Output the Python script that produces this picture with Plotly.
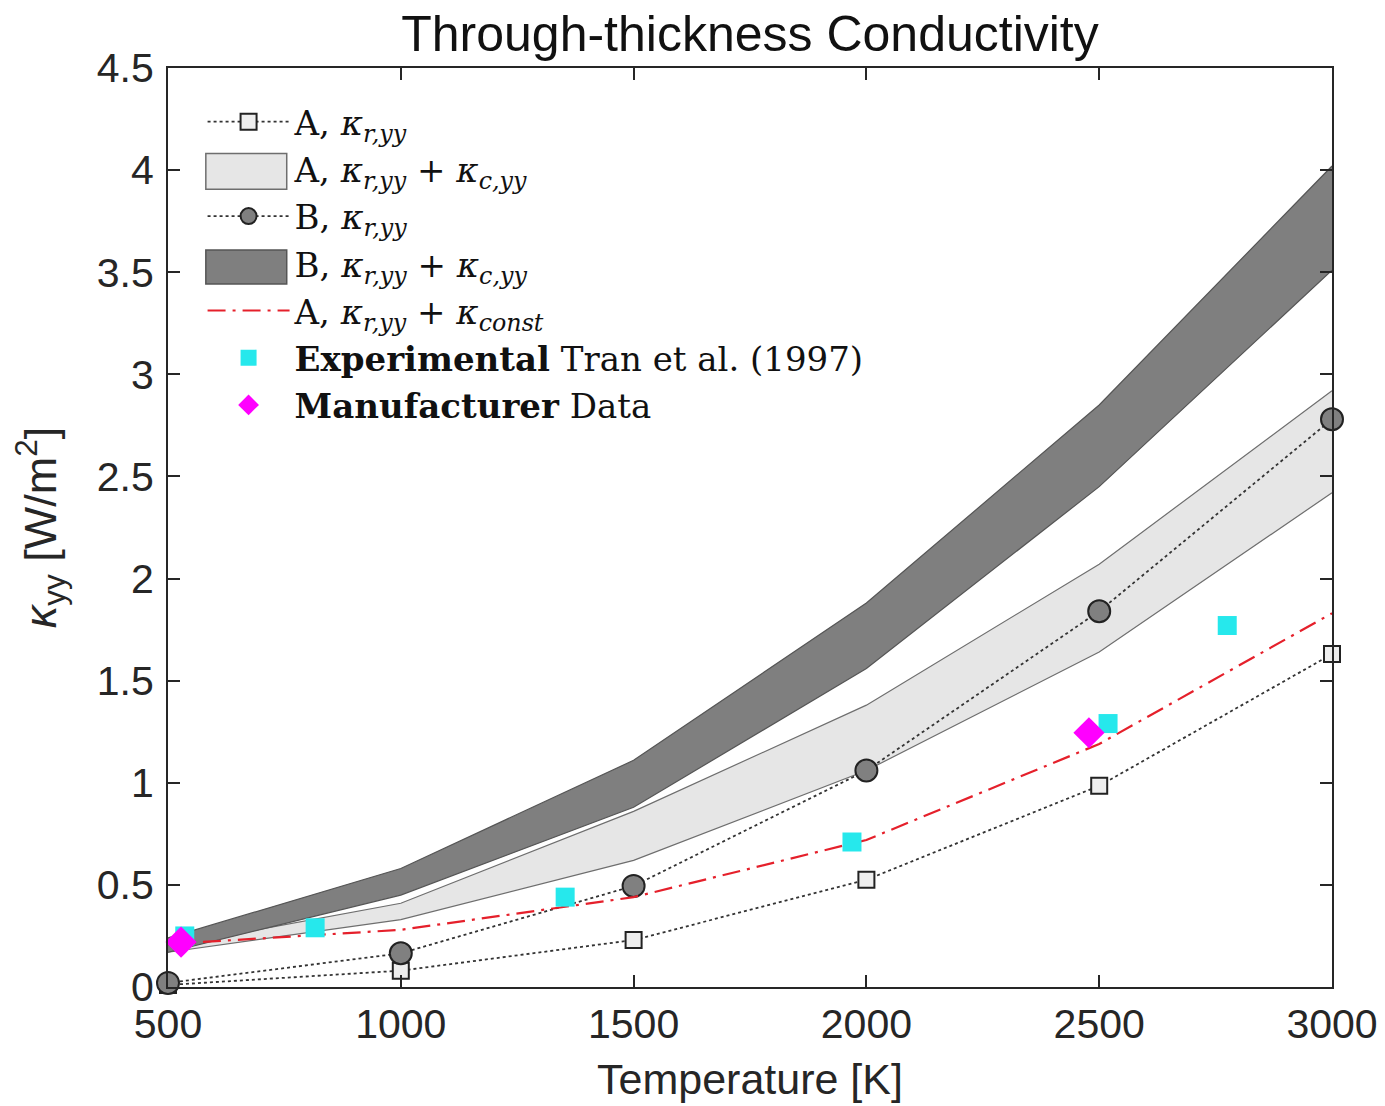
import plotly.graph_objects as go

temps = [500, 1000, 1500, 2000, 2500, 3000]
a_rad = [0.01, 0.08, 0.23, 0.525, 0.985, 1.63]
b_rad = [0.02, 0.165, 0.495, 1.06, 1.84, 2.78]
a_band_low = [0.17, 0.33, 0.62, 1.06, 1.64, 2.42]
a_band_high = [0.20, 0.41, 0.86, 1.38, 2.07, 2.92]
b_band_low = [0.17, 0.45, 0.88, 1.56, 2.45, 3.51]
b_band_high = [0.24, 0.58, 1.11, 1.88, 2.85, 4.02]
a_const = [0.21, 0.28, 0.44, 0.72, 1.19, 1.83]

exp_T = [536, 816, 1353, 1969, 2519, 2775]
exp_k = [0.25, 0.29, 0.44, 0.71, 1.29, 1.77]
man_T = [528, 2478]
man_k = [0.22, 1.245]

LIGHT_FILL, LIGHT_EDGE = "#e6e6e6", "#6e6e6e"
DARK_FILL, DARK_EDGE = "#7f7f7f", "#555555"


def kap(sub):
    return f"<i>κ</i><sub><i>{sub}</i></sub>"


fig = go.Figure()

# shaded bands: lower edge first, upper edge fills down to it
fig.add_trace(go.Scatter(x=temps, y=a_band_low, mode="lines", showlegend=False,
                         line=dict(color=LIGHT_EDGE, width=1.2), hoverinfo="skip"))
fig.add_trace(go.Scatter(x=temps, y=a_band_high, mode="lines", fill="tonexty",
                         fillcolor=LIGHT_FILL, line=dict(color=LIGHT_EDGE, width=1.2),
                         showlegend=False))
fig.add_trace(go.Scatter(x=temps, y=b_band_low, mode="lines", showlegend=False,
                         line=dict(color=DARK_EDGE, width=1.2), hoverinfo="skip"))
fig.add_trace(go.Scatter(x=temps, y=b_band_high, mode="lines", fill="tonexty",
                         fillcolor=DARK_FILL, line=dict(color=DARK_EDGE, width=1.2),
                         showlegend=False))

fig.add_trace(go.Scatter(x=temps, y=a_rad, mode="lines+markers", cliponaxis=False,
                         line=dict(color="#333333", width=1.8, dash="dot"),
                         marker=dict(symbol="square", size=16, color="#eeeeee",
                                     line=dict(color="#222222", width=2)),
                         name=f"A, {kap('r,yy')}", legendrank=1))
fig.add_trace(go.Scatter(x=temps, y=b_rad, mode="lines+markers", cliponaxis=False,
                         line=dict(color="#333333", width=1.8, dash="dot"),
                         marker=dict(symbol="circle", size=22, color="#808080",
                                     line=dict(color="#222222", width=2)),
                         name=f"B, {kap('r,yy')}", legendrank=3))
fig.add_trace(go.Scatter(x=temps, y=a_const, mode="lines",
                         line=dict(color="#e5202b", width=2.2, dash="18px,7px,3px,7px"),
                         name=f"A, {kap('r,yy')} + {kap('const')}", legendrank=5))
fig.add_trace(go.Scatter(x=exp_T, y=exp_k, mode="markers", cliponaxis=False,
                         marker=dict(symbol="square", size=19, color="#26e8ec"),
                         name="<b>Experimental</b> Tran et al. (1997)", legendrank=6))
fig.add_trace(go.Scatter(x=man_T, y=man_k, mode="markers", cliponaxis=False,
                         marker=dict(symbol="diamond", size=24, color="#ff00ff"),
                         name="<b>Manufacturer</b> Data", legendrank=7))

# legend entries for the bands (swatch boxes drawn as shapes below)
fig.add_trace(go.Scatter(x=[None], y=[None], mode="lines", line=dict(width=0, color="white"),
                         name=f"A, {kap('r,yy')} + {kap('c,yy')}", legendrank=2))
fig.add_trace(go.Scatter(x=[None], y=[None], mode="lines", line=dict(width=0, color="white"),
                         name=f"B, {kap('r,yy')} + {kap('c,yy')}", legendrank=4))

fig.add_shape(type="rect", xref="paper", yref="paper", x0=0.0325, x1=0.102, y0=0.868, y1=0.907,
              fillcolor=LIGHT_FILL, line=dict(color=LIGHT_EDGE, width=1.5), layer="above")
fig.add_shape(type="rect", xref="paper", yref="paper", x0=0.0325, x1=0.102, y0=0.765, y1=0.802,
              fillcolor=DARK_FILL, line=dict(color=DARK_EDGE, width=1.5), layer="above")

axis_common = dict(showline=True, linecolor="#262626", linewidth=2, mirror="allticks",
                   ticks="inside", ticklen=12, tickwidth=2, tickcolor="#262626",
                   showgrid=False, zeroline=False, automargin=False,
                   tickfont=dict(size=41, color="#262626"))

# the page body adds an 8px offset, so the figure is 8px smaller than the window
fig.update_layout(
    width=1377, height=1098,
    paper_bgcolor="white", plot_bgcolor="white",
    font=dict(family="Liberation Sans, Arial, sans-serif", color="#262626"),
    margin=dict(l=160, r=53, t=60, b=119),
    title=dict(text="Through-thickness Conductivity", xref="paper", x=0.5, xanchor="center",
               y=0.9768, yanchor="middle", font=dict(size=50, color="#111111")),
    xaxis=dict(range=[500, 3000], dtick=500, tick0=500,
               title=dict(text="Temperature [K]", font=dict(size=43), standoff=18),
               **axis_common),
    yaxis=dict(range=[0, 4.5], dtick=0.5, tick0=0, ticklabelstandoff=4,
               title=dict(text="<i>κ</i><sub>yy</sub> [W/m<sup>2</sup>]", font=dict(size=45),
                          standoff=30),
               **axis_common),
    legend=dict(x=0.0297, y=0.9727, xanchor="left", yanchor="top", bgcolor="rgba(0,0,0,0)",
                font=dict(family="DejaVu Serif, serif", size=34, color="#111111"),
                itemwidth=82, traceorder="normal"),
    showlegend=True,
)

fig.write_html("out.html")
